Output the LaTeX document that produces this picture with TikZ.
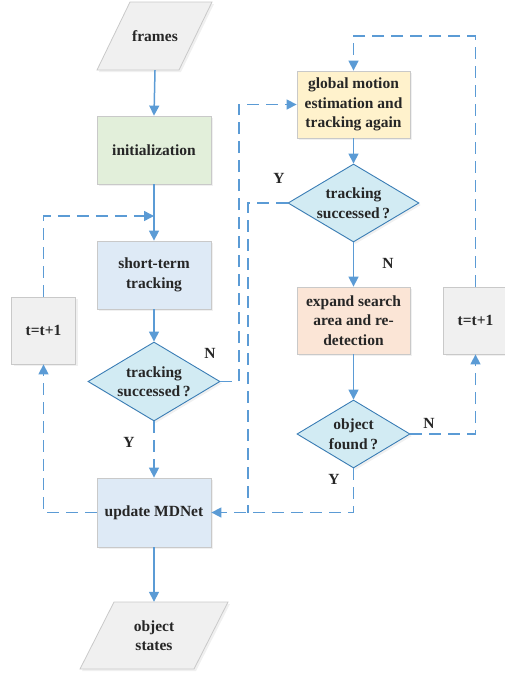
\documentclass[tikz,border=0pt]{standalone}
\usepackage{fontspec}
\setmainfont{Liberation Serif}
\usetikzlibrary{arrows.meta,shapes.geometric,shadows}
\definecolor{lineblue}{HTML}{5B9BD5}
\definecolor{boxborder}{HTML}{C9C9C9}
\definecolor{grayfill}{HTML}{F0F0F0}
\definecolor{greenfill}{HTML}{E2EFDA}
\definecolor{bluefill}{HTML}{DEEAF6}
\definecolor{yellowfill}{HTML}{FFF2CC}
\definecolor{orangefill}{HTML}{FBE5D6}
\definecolor{diafill}{HTML}{D2EBF3}
\definecolor{diaborder}{HTML}{3A7DB5}
\definecolor{txt}{HTML}{262626}
\begin{document}
\begin{tikzpicture}[x=1pt,y=-1pt,
  every node/.style={font=\fontsize{15.5}{19.5}\selectfont\bfseries, text=txt},
  shade box/.style={drop shadow={opacity=0.12, shadow xshift=2pt, shadow yshift=-2pt}},
  box/.style={draw=boxborder, line width=0.8pt, minimum width=114pt, minimum height=68pt,
    align=center, inner sep=2pt, shade box},
  tbox/.style={box, fill=grayfill, minimum width=64pt, minimum height=67pt},
  dia/.style={diamond, draw=diaborder, line width=0.9pt, fill=diafill, inner sep=0pt, shade box},
  dtext/.style={align=center, inner sep=0pt},
  para/.style={draw=boxborder, line width=0.8pt, fill=grayfill, shade box},
  ghost/.style={minimum width=80pt, inner sep=0pt, align=center},
  lbl/.style={inner sep=0pt},
  solidarrow/.style={draw=lineblue, line width=1.5pt, -{Triangle[length=10pt,width=10pt]}},
  dasharrow/.style={solidarrow, dash pattern=on 12pt off 7pt},
  dashline/.style={draw=lineblue, line width=1.5pt, dash pattern=on 12pt off 7pt}
]
\useasboundingbox (0,0) rectangle (505,675);

% input / output parallelograms
\path[para] (130,2) -- (212,2) -- (179,70) -- (97,70) -- cycle;
\node[ghost, minimum height=68pt] (frames) at (155,36) {frames};
\path[para] (114,602) -- (228,602) -- (194,669) -- (80,669) -- cycle;
\node[ghost, minimum height=67pt] (obj) at (154,635.5) {object\\states};

% boxes
\node[box, fill=greenfill] (init) at (154,150) {initialization};
\node[box, fill=bluefill] (short) at (154,275) {short-term\\tracking};
\node[box, fill=bluefill, minimum height=69pt] (upd) at (154,512.5) {update MDNet};
\node[tbox] (tleft) at (43.5,330.5) {t=t+1};
\node[box, fill=yellowfill, minimum width=113pt, minimum height=67pt] (glob) at (353.5,104.5) {global motion\\estimation and\\tracking again};
\node[box, fill=orangefill, minimum width=113pt, minimum height=67pt] (expand) at (353.5,320.5) {expand search\\area and re-\\detection};
\node[tbox] (tright) at (475.5,320.5) {t=t+1};

% decisions
\node[dia, minimum width=132pt, minimum height=79pt] (d1) at (154,381.5) {};
\node[dtext] at (d1) {tracking\\successed\,?};
\node[dia, minimum width=131pt, minimum height=78pt] (d2) at (353.5,203) {};
\node[dtext] at (d2) {tracking\\successed\,?};
\node[dia, minimum width=113pt, minimum height=68pt] (d3) at (353.5,434) {};
\node[dtext] at (d3) {object\\found\,?};

% labels
\node[lbl] (n1) at (210,353) {N};
\node[lbl] (y1) at (129,442) {Y};
\node[lbl] (y2) at (279,178) {Y};
\node[lbl] (n2) at (388,263) {N};
\node[lbl] (n3) at (429,423) {N};
\node[lbl] (y3) at (334,479) {Y};

% helper coordinates
\coordinate (join1) at (154,216);
\coordinate (mergeL) at (248,512.5);

% solid connectors
\draw[solidarrow] (frames.south) -- (init.north);
\draw[solidarrow] (init.south) -- (short.north);
\draw[solidarrow] (short.south) -- (d1.north);
\draw[solidarrow] (glob.south) -- (d2.north);
\draw[solidarrow] (d2.south) -- (expand.north);
\draw[solidarrow] (expand.south) -- (d3.north);
\draw[solidarrow] (upd.south) -- (obj.north);

% dashed connectors
\draw[dasharrow] (tleft.north) |- (join1);
\draw[dasharrow] (d1.south) -- (upd.north);
\draw[dasharrow] (d1.east) -- (239,381.5) |- (glob.west);
\draw[dashline] (d2.west) -| (mergeL);
\draw[dasharrow] (d3.south) |- (upd.east);
\draw[dasharrow] (d3.east) -| (tright.south);
\draw[dasharrow] (tright.north) |- (353.5,36) -- (glob.north);
\draw[dasharrow] (upd.west) -| (tleft.south);
\end{tikzpicture}
\end{document}
